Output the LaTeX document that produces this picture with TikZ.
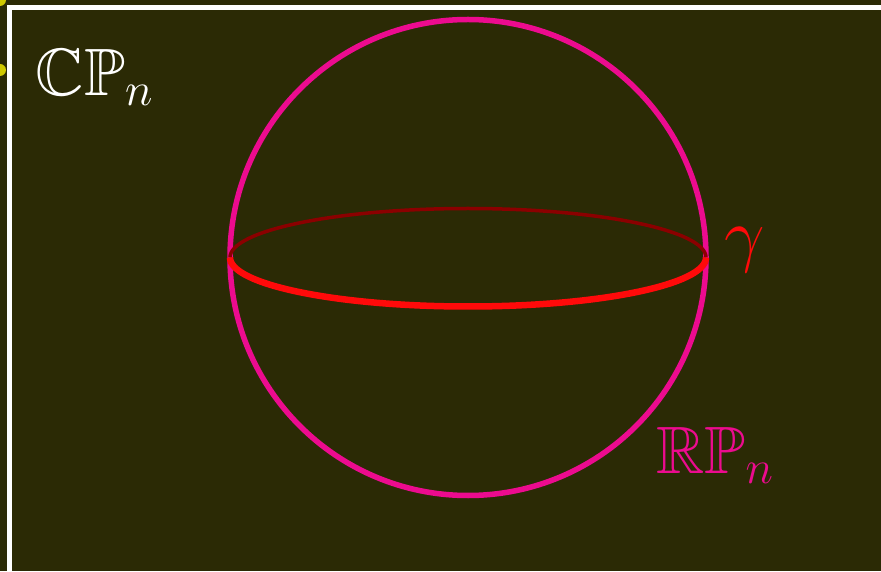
\documentclass[tikz,border=0pt]{standalone}
\usepackage{fix-cm}
\usepackage{amssymb}
\definecolor{bgolive}{HTML}{2B2A05}
\definecolor{spherepink}{HTML}{EC0B8F}
\definecolor{backred}{HTML}{8B0000}
\definecolor{frontred}{HTML}{FF0A0A}
\definecolor{dotyellow}{HTML}{CFC800}
\tikzset{
  lbl/.style={inner sep=0pt, font=\fontsize{67}{70}\selectfont},
}
\begin{document}
\begin{tikzpicture}[x=1pt,y=1pt]
\useasboundingbox (0,0) rectangle (881,571);
\begin{scope}
\clip (0,0) rectangle (881,571);
\fill[bgolive] (0,0) rectangle (881,571);
\draw[white, line width=5] (9.5,-20) -- (9.5,563.5) -- (900,563.5);
\fill[dotyellow] (0,571) circle (6);
\fill[dotyellow] (0,501) circle (6);
\coordinate (c) at (468,313.5);
\draw[spherepink, line width=5.5] (c) circle (238);
\draw[backred, line width=3.5] ([xshift=238]c) arc[start angle=0, end angle=180, x radius=238, y radius=49];
\draw[frontred, line width=6.5] ([xshift=-238]c) arc[start angle=180, end angle=360, x radius=238, y radius=49];
\end{scope}
\node[lbl, white] (cp) at (94.5,494) {$\mathbb{CP}_n$};
\node[lbl, frontred, font=\fontsize{72}{75}\selectfont] (g) at (745,321) {$\gamma$};
\node[lbl, spherepink] (rp) at (715,116) {$\mathbb{RP}_n$};
\end{tikzpicture}
\end{document}
